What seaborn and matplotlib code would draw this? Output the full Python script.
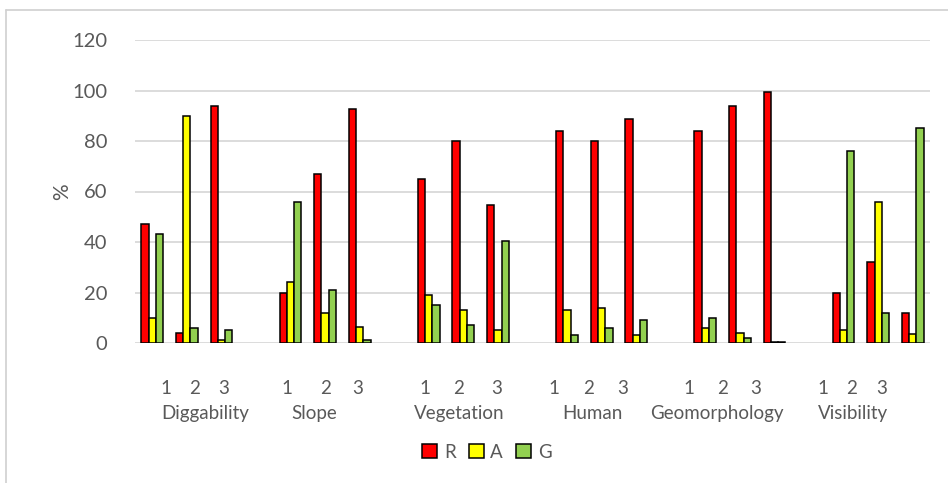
import matplotlib
matplotlib.use("Agg")
import matplotlib.pyplot as plt
from matplotlib.lines import Line2D
import seaborn as sns
import pandas as pd

# Factors, their classes and the share (%) of R / A / G per class
factors = ["Diggability", "Slope", "Vegetation", "Human", "Geomorphology", "Visibility"]
classes = ["1", "2", "3"]
series = ["R", "A", "G"]

r_values = [47, 4, 94, 20, 67, 92.7, 65, 80, 54.5, 84, 80, 88.7, 84, 94, 99.4, 20, 32, 12]
a_values = [10, 90, 1, 24, 12, 6.5, 19, 13, 5, 13, 14, 3, 6, 4, 0.5, 5, 56, 3.4]
g_values = [43, 6, 5, 56, 21, 1, 15, 7, 40.5, 3, 6, 9, 10, 2, 0.5, 76, 12, 85]

colors = {"R": "#FF0000", "A": "#FFFF00", "G": "#92D050"}

# Slot order: three classes per factor, one empty slot between factors
order = []
slot_keys = []
for i, f in enumerate(factors):
    for c in classes:
        order.append(f"{f} {c}")
        slot_keys.append(f"{f} {c}")
    if i < len(factors) - 1:
        order.append(" " * (i + 1))

rows = []
for key, r, a, g in zip(slot_keys, r_values, a_values, g_values):
    rows += [(key, "R", r), (key, "A", a), (key, "G", g)]
df = pd.DataFrame(rows, columns=["slot", "series", "pct"])

# Multi-level axis label positions (in slot units)
class_label_x = [0.40, 1.21, 2.07, 3.90, 5.00, 5.95, 7.89, 8.87, 9.97,
                 11.62, 12.63, 13.62, 15.53, 16.51, 17.46, 19.40, 20.24, 21.10]
factor_label_x = [1.52, 4.68, 8.87, 12.72, 16.34, 20.27]

sns.set_style("white")
plt.rcParams["font.family"] = ["Lato", "DejaVu Sans"]

fig = plt.figure(figsize=(9.48, 4.83), dpi=100)
ax = fig.add_axes([135 / 948, 1 - 343 / 483, 795 / 948, 303 / 483])

sns.barplot(data=df, x="slot", y="pct", hue="series", order=order,
            hue_order=series, palette=colors, saturation=1, width=0.63,
            edgecolor="black", linewidth=1.1, ax=ax, legend=True)

ax.set_xlim(-0.5, len(order) - 0.5)
ax.set_ylim(0, 120)
ax.set_yticks(range(0, 121, 20))
ax.tick_params(axis="y", labelsize=14.5, colors="#595959", length=0, pad=20)
ax.set_xticks([])
ax.set_xlabel("")
ax.set_ylabel("%", fontsize=15, color="#595959", labelpad=0)
ax.yaxis.grid(True, color="#D9D9D9", linewidth=1.3)
ax.set_axisbelow(True)
for s in ax.spines.values():
    s.set_visible(False)

trans = ax.get_xaxis_transform()
for x, c in zip(class_label_x, classes * len(factors)):
    ax.text(x, -0.15, c, transform=trans, ha="center", va="center",
            fontsize=13.5, color="#595959")
for x, f in zip(factor_label_x, factors):
    ax.text(x, -0.232, f, transform=trans, ha="center", va="center",
            fontsize=13.5, color="#595959")

handles, labels = ax.get_legend_handles_labels()
ax.legend(handles, labels, loc="center", bbox_to_anchor=(487 / 948, 1 - 452 / 483),
          bbox_transform=fig.transFigure, ncol=3, frameon=False,
          fontsize=13.5, handlelength=0.8, handleheight=0.8, handletextpad=0.35,
          columnspacing=0.7, labelcolor="#595959")

# Chart frame edges
fig.add_artist(Line2D([6 / 948, 1], [1 - 10 / 483] * 2, color="#D0D0D0", lw=1.2,
                      transform=fig.transFigure))
fig.add_artist(Line2D([6 / 948] * 2, [0, 1 - 10 / 483], color="#D0D0D0", lw=1.2,
                      transform=fig.transFigure))

fig.savefig("out.png", dpi=100)
